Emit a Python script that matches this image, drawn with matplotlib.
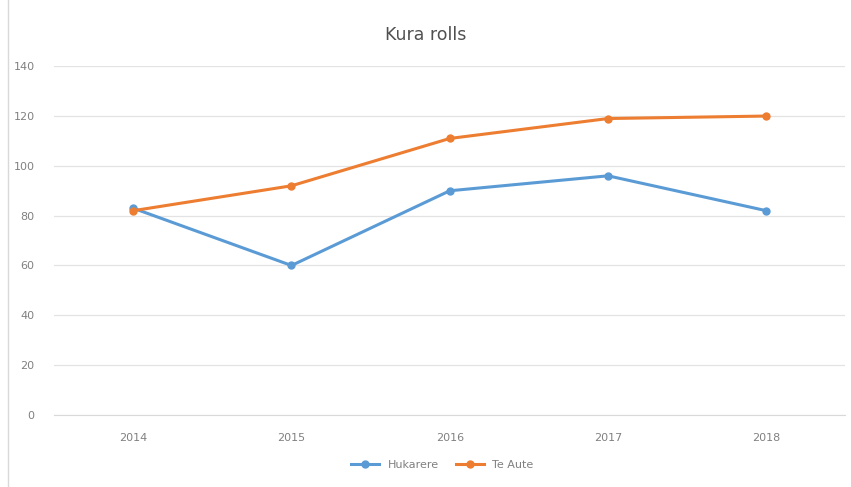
import matplotlib.pyplot as plt
from matplotlib.patches import Rectangle

years = ["2014", "2015", "2016", "2017", "2018"]
hukarere = [83, 60, 90, 96, 82]
te_aute = [82, 92, 111, 119, 120]

fig = plt.figure(figsize=(8.51, 4.87), dpi=100)
ax = fig.add_axes([0.0635, 0.148, 0.93, 0.716])

x = range(len(years))
ax.plot(x, hukarere, marker='o', color='#5B9BD5', linewidth=2.2, markersize=5, label="Hukarere")
ax.plot(x, te_aute, marker='o', color='#ED7D31', linewidth=2.2, markersize=5, label="Te Aute")

ax.set_xlim(-0.5, len(years) - 0.5)
ax.set_ylim(0, 140)
ax.set_yticks(range(0, 141, 20))
ax.set_xticks(list(x))
ax.set_xticklabels(years)
ax.grid(True, axis='y', color='#e3e3e3', linewidth=0.9)
ax.set_axisbelow(True)
for s in ['top', 'right', 'left']:
    ax.spines[s].set_visible(False)
ax.spines['bottom'].set_color('#d9d9d9')
ax.tick_params(axis='both', length=0, colors='#808080', labelsize=8)
ax.tick_params(axis='x', pad=13)
ax.tick_params(axis='y', pad=14)

fig.text(0.5, 0.928, "Kura rolls", ha='center', va='center', fontsize=12.5, color='#505050')
fig.legend(loc='center', bbox_to_anchor=(0.52, 0.045), ncol=2, frameon=False,
           fontsize=8, labelcolor='#808080', handlelength=2.5, columnspacing=1.5)

fig.patches.append(Rectangle((0.009, -0.01), 1.0, 1.02, transform=fig.transFigure,
                             fill=False, edgecolor='#d9d9d9', linewidth=1))

plt.savefig("out.png", dpi=100)
